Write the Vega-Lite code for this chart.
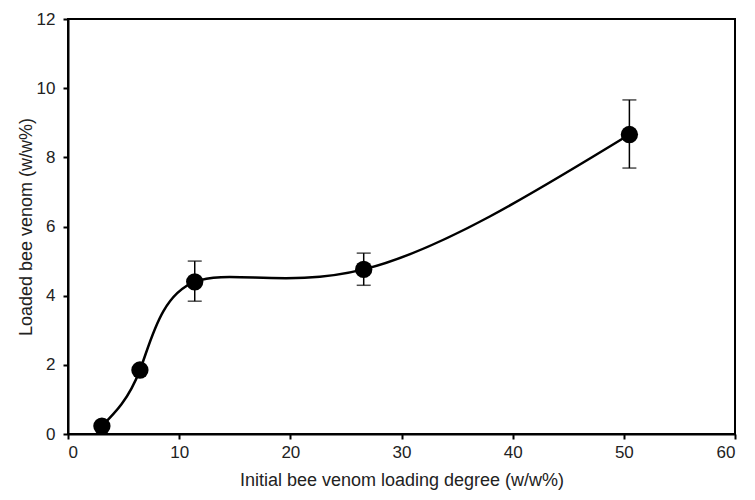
{
  "$schema": "https://vega.github.io/schema/vega-lite/v6.json",
  "autosize": "none",
  "width": 667,
  "height": 415,
  "padding": {"left": 68, "top": 19, "right": 20, "bottom": 66},
  "background": "white",
  "config": {
    "view": {"stroke": "black", "strokeWidth": 2},
    "font": "Liberation Sans",
    "axis": {
      "grid": false,
      "domainColor": "black",
      "domainWidth": 2,
      "tickColor": "black",
      "tickWidth": 2,
      "tickSize": 5,
      "labelFontSize": 17,
      "labelColor": "#222",
      "labelFont": "Liberation Sans",
      "titleFont": "Liberation Sans",
      "titleFontSize": 18,
      "titleFontWeight": "normal",
      "titleColor": "#222"
    }
  },
  "data": {
    "values": [
      {"x": 3.05, "y": 0.23, "lo": null, "hi": null},
      {"x": 6.47, "y": 1.85, "lo": null, "hi": null},
      {"x": 11.4, "y": 4.4, "lo": 3.84, "hi": 5.0},
      {"x": 26.6, "y": 4.76, "lo": 4.3, "hi": 5.23},
      {"x": 50.5, "y": 8.66, "lo": 7.69, "hi": 9.66}
    ]
  },
  "layer": [
    {
      "mark": {"type": "line", "interpolate": "natural", "color": "black", "strokeWidth": 2.5},
      "encoding": {
        "x": {"field": "x", "type": "quantitative", "scale": {"domain": [0, 60], "nice": false},
              "axis": {"values": [0, 10, 20, 30, 40, 50, 60], "title": "Initial bee venom loading degree (w/w%)", "labelPadding": 5, "titlePadding": 11}},
        "y": {"field": "y", "type": "quantitative", "scale": {"domain": [0, 12], "nice": false},
              "axis": {"values": [0, 2, 4, 6, 8, 10, 12], "title": "Loaded bee venom (w/w%)", "labelPadding": 8, "titlePadding": 1}}
      }
    },
    {
      "transform": [{"filter": "datum.lo != null"}],
      "mark": {"type": "errorbar", "ticks": {"size": 14, "thickness": 1.5, "color": "black"}, "rule": {"strokeWidth": 1.5, "color": "black"}},
      "encoding": {
        "x": {"field": "x", "type": "quantitative"},
        "y": {"field": "lo", "type": "quantitative", "title": "Loaded bee venom (w/w%)"},
        "y2": {"field": "hi"}
      }
    },
    {
      "mark": {"type": "point", "filled": true, "color": "black", "opacity": 1, "size": 300, "shape": "circle"},
      "encoding": {
        "x": {"field": "x", "type": "quantitative"},
        "y": {"field": "y", "type": "quantitative"}
      }
    }
  ]
}
